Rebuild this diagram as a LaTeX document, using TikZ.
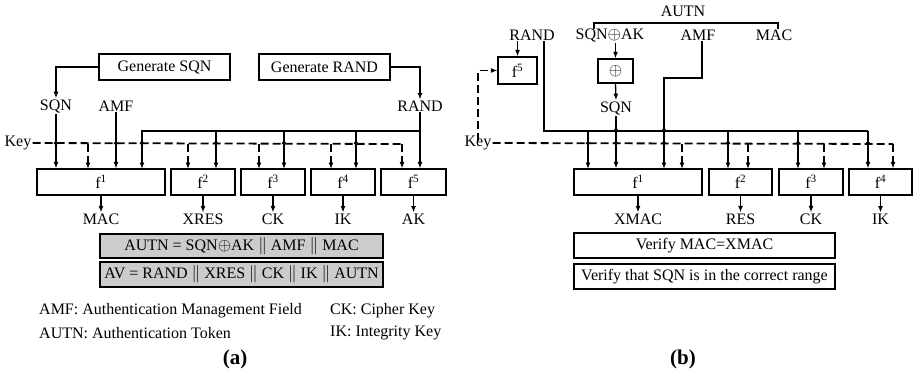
\documentclass[tikz,border=0pt]{standalone}
\usepackage{fontspec}
\setmainfont{Liberation Serif}
\usetikzlibrary{arrows.meta}

\tikzset{
	fbox/.style={draw, line width=1.2pt, minimum height=26pt, inner sep=0pt},
	graybox/.style={fbox, fill=black!20, minimum height=25pt},
	lbl/.style={inner sep=1pt},
	conn/.style={line width=1.3pt},
	keyline/.style={line width=1.8pt, dash pattern=on 8pt off 4pt},
	>={Latex[length=6.5pt,width=5pt]}
}
\newcommand{\hop}[2]{\fill (#1-2.4,#2) arc[start angle=180,end angle=360,radius=2.4] -- cycle;}

\begin{document}
\begin{tikzpicture}[x=1pt, y=-1pt, font=\fontsize{16}{19}\selectfont]
	\useasboundingbox (0,0) rectangle (913,375);
	
	% (a)
	\node[fbox, minimum width=131pt] (gsqn) at (164.5,67) {Generate SQN};
	\node[fbox, minimum width=131pt] (grand) at (324.5,67) {Generate RAND};
	
	\node[lbl] (sqna) at (56,106) {SQN};
	\node[lbl] (amfa) at (116,106) {AMF};
	\node[lbl] (randa) at (420,106) {RAND};
	\node[lbl] (keya) at (18,143) {Key};
	
	\node[fbox, minimum width=128pt] (f1a) at (101,182) {f\textsuperscript{1}};
	\node[fbox, minimum width=64pt] (f2a) at (203,182) {f\textsuperscript{2}};
	\node[fbox, minimum width=64pt] (f3a) at (273,182) {f\textsuperscript{3}};
	\node[fbox, minimum width=64pt] (f4a) at (343,182) {f\textsuperscript{4}};
	\node[fbox, minimum width=65pt] (f5a) at (413.5,182) {f\textsuperscript{5}};
	
	\draw[conn,->] (gsqn.west) -| (sqna.north);
	\draw[conn,->] (grand.east) -| (randa.north);
	\draw[conn,->] (sqna.south) -- (sqna.south |- f1a.north);
	\draw[conn,->] (amfa.south) -- (amfa.south |- f1a.north);
	\draw[conn,->] (randa.south) -- (randa.south |- f5a.north);
	
	\coordinate (busa) at (420,131);
	\draw[conn,->] (busa) -| (142,169);
	\foreach \x in {216,284,356}
		\draw[conn,->] (\x,131) -- (\x,169);
	
	\coordinate (keyenda) at (402,144);
	\draw[keyline] (keya.east) -- (keyenda);
	\draw[keyline,->] (keyenda) -- (keyenda |- f5a.north);
	\foreach \x in {88,188,259,331}
		\draw[keyline,->] (\x,144) -- (\x,169);
	\foreach \x in {56,116,142,216,284,356}
		{\hop{\x}{144}}
	
	\node[lbl] (maca) at (101,219) {MAC};
	\node[lbl] (xresa) at (203,219) {XRES};
	\node[lbl] (cka) at (273,219) {CK};
	\node[lbl] (ika) at (343,219) {IK};
	\node[lbl] (aka) at (413.5,219) {AK};
	\foreach \i/\o in {f1a/maca,f2a/xresa,f3a/cka,f4a/ika,f5a/aka}
		\draw[conn,->] (\i.south) -- (\o.north);
	
	\node[graybox, minimum width=283pt, minimum height=24pt] (autna) at (241.5,246) {AUTN = SQN$\oplus$AK $\|$ AMF $\|$ MAC};
	\node[graybox, minimum width=283pt] (ava) at (241.5,274.5) {AV = RAND $\|$ XRES $\|$ CK $\|$ IK $\|$ AUTN};
	
	\node[lbl, anchor=west] (lamf) at (38,311) {AMF: Authentication Management Field};
	\node[lbl, anchor=west] (lautn) at (38,333) {AUTN: Authentication Token};
	\node[lbl, anchor=west] (lck) at (329,311) {CK: Cipher Key};
	\node[lbl, anchor=west] (lik) at (329,333) {IK: Integrity Key};
	
	\node[font=\fontsize{21}{24}\selectfont\bfseries] (capa) at (235,359) {(a)};
	
	% (b)
	\node[lbl] (autnb) at (683,11) {AUTN};
	\draw[conn] (594,29) -- (594,23) -- (778,23) -- (778,29);
	
	\node[lbl] (randb) at (532,35) {RAND};
	\node[lbl] (sqnakb) at (610,35) {SQN$\oplus$AK};
	\node[lbl] (amfb) at (698,35) {AMF};
	\node[lbl] (macb) at (774,35) {MAC};
	
	\node[fbox, minimum width=39pt, minimum height=27pt] (f5b) at (517.5,70.5) {f\textsuperscript{5}};
	\node[fbox, minimum width=35pt, minimum height=24pt] (xorb) at (615.5,71) {$\oplus$};
	\node[lbl] (sqnb) at (616,108) {SQN};
	\node[lbl] (keyb) at (478,143) {Key};
	
	\node[fbox, minimum width=128pt] (f1b) at (638,182) {f\textsuperscript{1}};
	\node[fbox, minimum width=63pt] (f2b) at (740.5,182) {f\textsuperscript{2}};
	\node[fbox, minimum width=64pt] (f3b) at (811,182) {f\textsuperscript{3}};
	\node[fbox, minimum width=63pt] (f4b) at (880.5,182) {f\textsuperscript{4}};
	
	\draw[conn,->] (randb.south -| f5b.north) -- (f5b.north);
	\draw[conn,->] (sqnakb.south -| xorb.north) -- (xorb.north);
	\draw[conn,->] (xorb.south) -- (sqnb.north);
	\draw[conn,->] (sqnb.south) -- (sqnb.south |- f1b.north);
	
	\coordinate (amfturn) at (702,78);
	\draw[conn,->] (amfturn |- amfb.south) -- (amfturn) -| (664,169);
	
	\coordinate (busb) at (868,131);
	\draw[conn] (544,41) -- (544,131) -- (busb);
	\draw[conn,->] (busb) -- (busb |- f4b.north);
	\foreach \x in {588,728,798}
		\draw[conn,->] (\x,131) -- (\x,169);
	
	\coordinate (keyendb) at (893,144);
	\draw[keyline,->] ([yshift=-6pt]keyb.north) |- (f5b.west);
	\draw[keyline] (keyb.east) -- (keyendb);
	\draw[keyline,->] (keyendb) -- (keyendb |- f4b.north);
	\foreach \x in {682,748,824}
		\draw[keyline,->] (\x,144) -- (\x,169);
	\foreach \x in {616,664}
		{\hop{\x}{131}}
	\foreach \x in {588,616,664,728,798,868}
		{\hop{\x}{144}}
	
	\node[lbl] (xmacb) at (638,219) {XMAC};
	\node[lbl] (resb) at (740.5,219) {RES};
	\node[lbl] (ckb) at (811,219) {CK};
	\node[lbl] (ikb) at (880.5,219) {IK};
	\foreach \i/\o in {f1b/xmacb,f2b/resb,f3b/ckb,f4b/ikb}
		\draw[conn,->] (\i.south) -- (\o.north);
	
	\node[fbox, minimum width=261pt, minimum height=25pt] (vmac) at (704.5,245.5) {Verify MAC=XMAC};
	\node[fbox, minimum width=261pt, minimum height=25pt] (vsqn) at (704.5,276.5) {Verify that SQN is in the correct range};
	
	\node[font=\fontsize{21}{24}\selectfont\bfseries] (capb) at (683,359) {(b)};
\end{tikzpicture}
\end{document}
